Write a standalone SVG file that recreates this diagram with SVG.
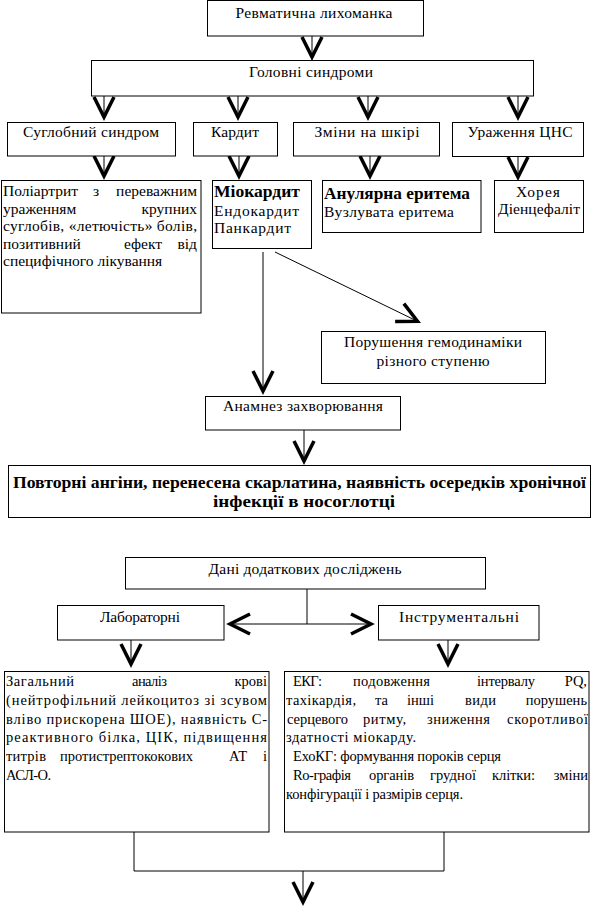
<svg xmlns="http://www.w3.org/2000/svg" width="598" height="909" viewBox="0 0 598 909">
<style>
.box{fill:#fff;stroke:#000;stroke-width:1}
.t{font-family:"Liberation Serif","Times New Roman",serif;font-size:15.5px;fill:#000}
.s{font-family:"Liberation Serif","Times New Roman",serif;font-size:14.5px;fill:#000}
.b{font-family:"Liberation Serif","Times New Roman",serif;font-size:17px;font-weight:bold;fill:#000}
.m{text-anchor:middle}
.e{text-anchor:end}
.ln{fill:none;stroke:#000;stroke-width:1}
.ar{fill:none;stroke:#000;stroke-width:1;marker-end:url(#v)}
</style>
<defs>
<marker id="v" markerUnits="userSpaceOnUse" markerWidth="40" markerHeight="40" viewBox="-30 -20 40 40" refX="0" refY="0" orient="auto" overflow="visible">
<path d="M-20,-10 L0,0 L-20,10" fill="none" stroke="#000" stroke-width="3.5" stroke-linejoin="miter"/>
</marker>
</defs>
<rect width="598" height="909" fill="#fff"/>

<g id="connectors">
<path class="ar" d="M312,36 V57"/>
<path class="ar" d="M104,96 V117"/>
<path class="ar" d="M238,96 V117"/>
<path class="ar" d="M368,96 V117"/>
<path class="ar" d="M518,96 V117"/>
<path class="ar" d="M104,156 V176"/>
<path class="ar" d="M239,156 V176"/>
<path class="ar" d="M370,156 V176"/>
<path class="ar" d="M518,157 V177"/>
<path class="ar" d="M263,252 V391"/>
<path class="ar" d="M275,252 L417.5,321.3"/>
<path class="ar" d="M304,430 V461"/>
<path class="ln" d="M307,589 V624"/>
<path class="ar" d="M307,624 H230"/>
<path class="ar" d="M307,624 H371"/>
<path class="ar" d="M131,640 V664"/>
<path class="ar" d="M448,640 V664"/>
<path class="ln" d="M134,832 V871 H444 V832"/>
<path class="ar" d="M303,871 V902"/>
</g>

<g id="n-rl">
<rect class="box" x="207.5" y="0.5" width="216" height="35.5"/>
<text class="t m" x="314" y="18" textLength="157" lengthAdjust="spacing">Ревматична лихоманка</text>
</g>
<g id="n-gs">
<rect class="box" x="91.5" y="60.5" width="442" height="35.5"/>
<text class="t m" x="311" y="77" textLength="124" lengthAdjust="spacing">Головні синдроми</text>
</g>
<g id="n-ss">
<rect class="box" x="7.5" y="122.5" width="168" height="33.5"/>
<text class="t m" x="91" y="137" textLength="136" lengthAdjust="spacing">Суглобний синдром</text>
</g>
<g id="n-kard">
<rect class="box" x="193.5" y="122.5" width="84" height="33.5"/>
<text class="t m" x="235" y="137" textLength="48" lengthAdjust="spacing">Кардит</text>
</g>
<g id="n-zmin">
<rect class="box" x="293.5" y="122.5" width="146" height="33.5"/>
<text class="t m" x="367" y="137" textLength="105" lengthAdjust="spacing">Зміни на шкірі</text>
</g>
<g id="n-cns">
<rect class="box" x="452.5" y="122.5" width="131" height="34"/>
<text class="t m" x="520" y="137" textLength="105" lengthAdjust="spacing">Ураження ЦНС</text>
</g>

<g id="n-poli">
<rect class="box" x="1.5" y="180.5" width="199.5" height="132.5"/>
<text class="t" x="3" y="196">Поліартрит</text>
<text class="t" x="93" y="196">з</text>
<text class="t e" x="197" y="196">переважним</text>
<text class="t" x="3" y="213.5">ураженням</text>
<text class="t e" x="197" y="213.5">крупних</text>
<text class="t" x="3" y="231" textLength="194" lengthAdjust="spacing">суглобів, «летючість» болів,</text>
<text class="t" x="3" y="248.5">позитивний</text>
<text class="t" x="124" y="248.5">ефект</text>
<text class="t e" x="197" y="248.5">від</text>
<text class="t" x="3" y="266">специфічного лікування</text>
</g>
<g id="n-miok">
<rect class="box" x="212.5" y="180.5" width="99" height="68"/>
<text class="b" x="214" y="197" textLength="86" lengthAdjust="spacingAndGlyphs">Міокардит</text>
<text class="t" x="214" y="216" textLength="85" lengthAdjust="spacing">Ендокардит</text>
<text class="t" x="214" y="233" textLength="77" lengthAdjust="spacing">Панкардит</text>
</g>
<g id="n-anul">
<rect class="box" x="322.5" y="180.5" width="158.5" height="52"/>
<text class="b" x="324" y="199" textLength="146" lengthAdjust="spacingAndGlyphs">Анулярна еритема</text>
<text class="t" x="324" y="217" textLength="130" lengthAdjust="spacing">Вузлувата еритема</text>
</g>
<g id="n-hor">
<rect class="box" x="494.5" y="180.5" width="89" height="52"/>
<text class="t m" x="538" y="197" textLength="44" lengthAdjust="spacing">Хорея</text>
<text class="t m" x="539" y="214" textLength="82" lengthAdjust="spacing">Діенцефаліт</text>
</g>
<g id="n-por">
<rect class="box" x="321.5" y="331.5" width="224" height="52"/>
<text class="t m" x="433" y="347" textLength="178" lengthAdjust="spacing">Порушення гемодинаміки</text>
<text class="t m" x="433" y="366" textLength="113" lengthAdjust="spacing">різного ступеню</text>
</g>
<g id="n-anam">
<rect class="box" x="205.5" y="396.5" width="195" height="33.5"/>
<text class="t m" x="303" y="411" textLength="160" lengthAdjust="spacing">Анамнез захворювання</text>
</g>
<g id="n-povt">
<rect class="box" x="8.5" y="465.5" width="582" height="52"/>
<text class="b m" x="299.5" y="488" font-size="18" textLength="573" lengthAdjust="spacingAndGlyphs">Повторні ангіни, перенесена скарлатина, наявність осередків хронічної</text>
<text class="b m" x="304" y="507" font-size="18" textLength="182" lengthAdjust="spacingAndGlyphs">інфекції в носоглотці</text>
</g>

<g id="n-dani">
<rect class="box" x="125.5" y="557.5" width="360" height="31.5"/>
<text class="t m" x="305" y="574" textLength="193" lengthAdjust="spacing">Дані додаткових досліджень</text>
</g>
<g id="n-lab">
<rect class="box" x="57.5" y="605.5" width="166.5" height="34.5"/>
<text class="t m" x="140" y="622" textLength="80" lengthAdjust="spacing">Лабораторні</text>
</g>
<g id="n-instr">
<rect class="box" x="378.5" y="605.5" width="160.5" height="34.5"/>
<text class="t m" x="459" y="622" textLength="120" lengthAdjust="spacing">Інструментальні</text>
</g>
<g id="n-zag">
<rect class="box" x="4.5" y="671.5" width="264.5" height="160.5"/>
<text class="s" x="6" y="686" textLength="68" lengthAdjust="spacing">Загальний</text>
<text class="s" x="132" y="686" textLength="35" lengthAdjust="spacing">аналіз</text>
<text class="s e" x="267" y="686">крові</text>
<text class="s" x="6" y="704.8" textLength="261" lengthAdjust="spacing">(нейтрофільний лейкоцитоз зі зсувом</text>
<text class="s" x="6" y="723.6" textLength="261" lengthAdjust="spacing">вліво прискорена ШОЕ), наявність С-</text>
<text class="s" x="6" y="742.4" textLength="261" lengthAdjust="spacing">реактивного білка, ЦІК, підвищення</text>
<text class="s" x="6" y="761.2" textLength="40" lengthAdjust="spacing">титрів</text>
<text class="s" x="60" y="761.2" textLength="133" lengthAdjust="spacing">протистрептококових</text>
<text class="s" x="229" y="761.2">АТ</text>
<text class="s e" x="267" y="761.2">і</text>
<text class="s" x="6" y="780" textLength="45" lengthAdjust="spacing">АСЛ-О.</text>
</g>
<g id="n-ekg">
<rect class="box" x="284.5" y="671.5" width="304.5" height="160.5"/>
<text class="s" x="293" y="686" textLength="29" lengthAdjust="spacing">ЕКГ:</text>
<text class="s" x="353" y="686" textLength="77" lengthAdjust="spacing">подовження</text>
<text class="s" x="477" y="686" textLength="58" lengthAdjust="spacing">інтервалу</text>
<text class="s e" x="587" y="686">PQ,</text>
<text class="s" x="286" y="704.8" textLength="70" lengthAdjust="spacing">тахікардія,</text>
<text class="s" x="375" y="704.8">та</text>
<text class="s" x="407" y="704.8" textLength="27" lengthAdjust="spacing">інші</text>
<text class="s" x="465" y="704.8" textLength="31" lengthAdjust="spacing">види</text>
<text class="s e" x="587" y="704.8">порушень</text>
<text class="s" x="287" y="723.6" textLength="61" lengthAdjust="spacing">серцевого</text>
<text class="s" x="363" y="723.6" textLength="43" lengthAdjust="spacing">ритму,</text>
<text class="s" x="427" y="723.6" textLength="63" lengthAdjust="spacing">зниження</text>
<text class="s" x="507" y="723.6" textLength="81" lengthAdjust="spacing">скоротливої</text>
<text class="s" x="286" y="742.4" textLength="130" lengthAdjust="spacing">здатності міокарду.</text>
<text class="s" x="293" y="761.2" textLength="208" lengthAdjust="spacing">ЕхоКГ: формування пороків серця</text>
<text class="s" x="293" y="780" textLength="58" lengthAdjust="spacing">Ro-графія</text>
<text class="s" x="369" y="780" textLength="45" lengthAdjust="spacing">органів</text>
<text class="s" x="430" y="780" textLength="46" lengthAdjust="spacing">грудної</text>
<text class="s" x="492" y="780" textLength="43" lengthAdjust="spacing">клітки:</text>
<text class="s e" x="588" y="780">зміни</text>
<text class="s" x="286" y="798.8" textLength="177" lengthAdjust="spacing">конфігурації і размірів серця.</text>
</g>
</svg>
